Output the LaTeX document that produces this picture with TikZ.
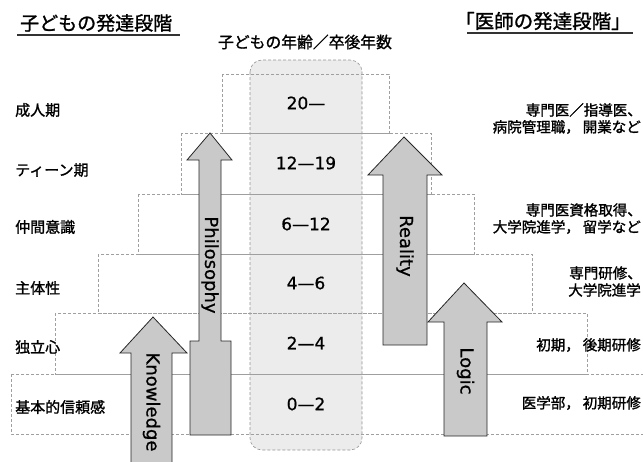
\documentclass[tikz,border=0pt]{standalone}
\usepackage{fontspec}
\newfontfamily\jpf[FakeBold=1.3]{Noto Sans CJK JP}
\newfontfamily\numf[FakeBold=0.8]{DejaVu Sans}
\newcommand\jpcomma{，\kern3pt}
\begin{document}
\begin{tikzpicture}[x=1pt,y=-1pt,
  stepbox/.style={draw=gray!75, densely dashed, line width=0.6pt},
  colbox/.style={draw=gray!85, densely dashed, fill=gray!15, rounded corners=12pt, line width=0.6pt},
  arr/.style={draw=black!85, fill=gray!42, line width=0.8pt, line join=miter},
  lab/.style={font=\jpf\fontsize{15}{15}\selectfont, inner sep=0pt, anchor=west},
  rlab/.style={font=\jpf\fontsize{14.5}{14.5}\selectfont, inner sep=0pt, anchor=east},
  num/.style={font=\numf\fontsize{17}{17}\selectfont, inner sep=0pt},
  atext/.style={font=\numf\fontsize{18}{18}\selectfont, rotate=-90, inner sep=0pt},
  uline/.style={draw=black!80, line width=1.1pt}
]
\useasboundingbox (0,0) rectangle (643,461);

% central column
\draw[colbox] (250,60) rectangle (362,450);

% staircase rows
\draw[stepbox] (222,74) rectangle (389,133);
\draw[stepbox] (181,133) rectangle (431,194);
\draw[stepbox] (138,194) rectangle (474,254);
\draw[stepbox] (98,254) rectangle (532,313);
\draw[stepbox] (55,313) rectangle (587,374);
\draw[stepbox] (11,374) rectangle (670,434);

% arrows
\draw[arr] (131,475) -- (131,353) -- (120,353) -- (153,317) -- (187,353) -- (172,353) -- (172,475) -- cycle;
\draw[arr] (190,435) -- (190,341) -- (199,341) -- (199,160) -- (187,160) -- (210,133) -- (232,160) -- (221,160) -- (221,341) -- (231,341) -- (231,435) -- cycle;
\draw[arr] (383,345) -- (383,175) -- (368,175) -- (404,137) -- (442,175) -- (427,175) -- (427,345) -- cycle;
\draw[arr] (444,436) -- (444,322) -- (428,322) -- (464,283) -- (502,322) -- (487,322) -- (487,436) -- cycle;

\node[atext] (tK) at (151.5,402) {Knowledge};
\node[atext] (tP) at (210,265) {Philosophy};
\node[atext] (tR) at (405,246) {Reality};
\node[atext] (tL) at (465.5,371) {Logic};

% titles
\node[font=\jpf\fontsize{19}{19}\selectfont, anchor=west, inner sep=0pt] (t1) at (20,23) {子どもの発達段階};
\coordinate (u1a) at (17,35); \coordinate (u1b) at (180,35);
\draw[uline] (u1a) -- (u1b);
\node[font=\jpf\fontsize{19.5}{19.5}\selectfont, anchor=west, inner sep=0pt] (t2) at (455,21) {「医師の発達段階」};
\coordinate (u2a) at (467,33); \coordinate (u2b) at (633,33);
\draw[uline] (u2a) -- (u2b);
\node[font=\jpf\fontsize{15.8}{15.8}\selectfont, inner sep=0pt] (hd) at (305,42) {子どもの年齢／卒後年数};

% numbers
\node[num] (n1) at (306,103) {20—};
\node[num] (n2) at (306,163) {12—19};
\node[num] (n3) at (306,224) {6—12};
\node[num] (n4) at (306,283) {4—6};
\node[num] (n5) at (306,343) {2—4};
\node[num] (n6) at (306,404) {0—2};

% left labels
\node[lab] (l1) at (15,110) {成人期};
\node[lab] (l2) at (15,170) {ティーン期};
\node[lab] (l3) at (15,227) {仲間意識};
\node[lab] (l4) at (15,288) {主体性};
\node[lab] (l5) at (15,347) {独立心};
\node[lab] (l6) at (15,407) {基本的信頼感};

% right labels
\node[rlab] (r1a) at (642,110) {専門医／指導医、};
\node[rlab] (r1b) at (641,127) {病院管理職\jpcomma 開業など};
\node[rlab] (r3a) at (642,210) {専門医資格取得、};
\node[rlab] (r3b) at (641,227) {大学院進学\jpcomma 留学など};
\node[rlab] (r4a) at (642,273) {専門研修、};
\node[rlab] (r4b) at (641,290) {大学院進学};
\node[rlab] (r5) at (641,345) {初期\jpcomma 後期研修};
\node[rlab] (r6) at (641,403) {医学部\jpcomma 初期研修};
\end{tikzpicture}
\end{document}
